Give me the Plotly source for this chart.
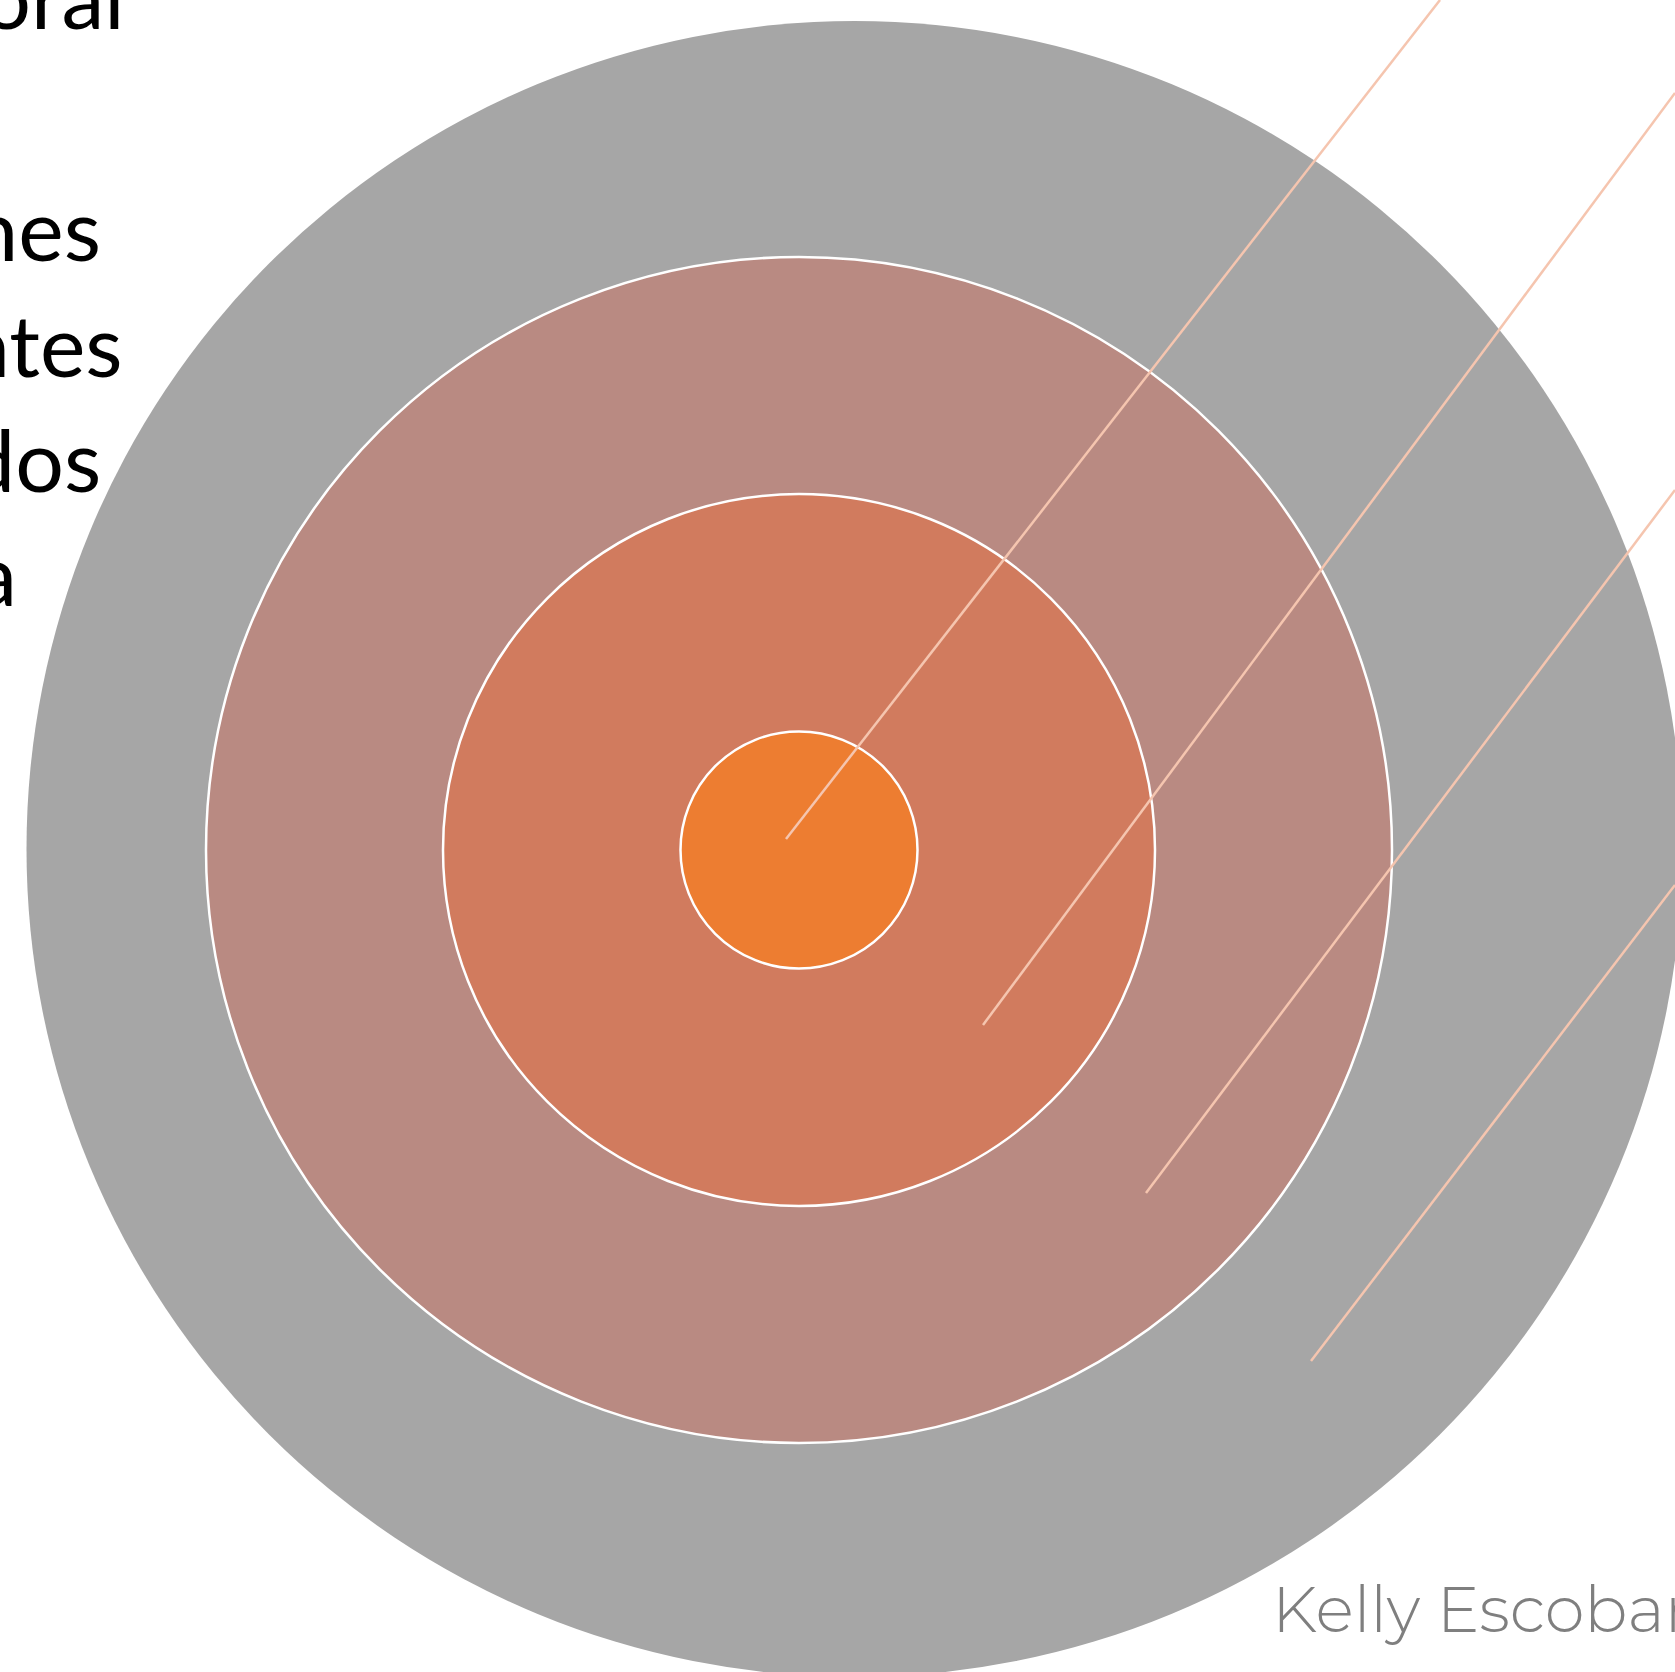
import plotly.graph_objects as go

W, H = 1675, 1672

# Concentric rings (pixel space of the slide)
ring_names = ["outer", "ring3", "ring2", "core"]
ring_cx = [854.5, 799, 799, 799]
ring_cy = [849, 850, 850, 850]
ring_r = [828, 593, 356, 118.5]
ring_fill = ["#A6A6A6", "#B98A82", "#D17B5E", "#ED7D31"]
ring_outline = [0, 2.5, 2.5, 2.5]

# Leader lines (start inside rings, running up-right off the slide)
line_x0 = [786, 983, 1146, 1311]
line_y0 = [839, 1025, 1193, 1361]
line_x1 = [1440, 1675, 1675, 1675]
line_y1 = [0, 93, 490, 885]

# Left text fragments (cut by slide edge)
left_words = ["laboral", "condiciones", "estudiantes", "resultados", "escuela"]
left_right_edge = [127, 103, 125, 103, 19]
left_baseline = [24, 256, 372, 487, 601]

author = "Kelly Escobar"

fig = go.Figure()

shapes = []
for cx, cy, r, col, lw in zip(ring_cx, ring_cy, ring_r, ring_fill, ring_outline):
    shapes.append(dict(
        type="circle", xref="x", yref="y",
        x0=cx - r, x1=cx + r, y0=cy - r, y1=cy + r,
        fillcolor=col,
        line=dict(color="white", width=lw) if lw > 0 else dict(width=0),
        layer="below",
    ))

for x0, y0, x1, y1 in zip(line_x0, line_y0, line_x1, line_y1):
    fig.add_trace(go.Scatter(
        x=[x0, x1], y=[y0, y1], mode="lines",
        line=dict(color="#F5C5AF", width=2.5),
        hoverinfo="skip", showlegend=False,
    ))

FS = 86
annotations = []
for w, xr, yb in zip(left_words, left_right_edge, left_baseline):
    yc = yb - 0.33 * FS
    annotations.append(dict(
        text=w, x=xr / W, y=1 - yc / H, xref="paper", yref="paper",
        xanchor="right", yanchor="middle", showarrow=False,
        font=dict(family="Lato, Carlito, Open Sans, sans-serif", size=FS, color="black"),
    ))

annotations.append(dict(
    text=author, x=1270, y=1630 - 0.33 * 64, xref="x", yref="y",
    xanchor="left", yanchor="middle", showarrow=False,
    font=dict(family="Montserrat, Lato, sans-serif", size=64, color="#7F7F7F", weight=300),
))

fig.update_layout(
    width=W, height=H,
    margin=dict(l=0, r=0, t=0, b=0),
    paper_bgcolor="white", plot_bgcolor="white",
    xaxis=dict(range=[0, W], visible=False, fixedrange=True),
    yaxis=dict(range=[H, 0], visible=False, fixedrange=True),
    shapes=shapes, annotations=annotations,
    showlegend=False,
)

fig.write_html(
    "out.html",
    config={"displayModeBar": False},
    post_script="document.body.style.margin='0';document.body.style.overflow='hidden';document.documentElement.style.overflow='hidden';",
)
